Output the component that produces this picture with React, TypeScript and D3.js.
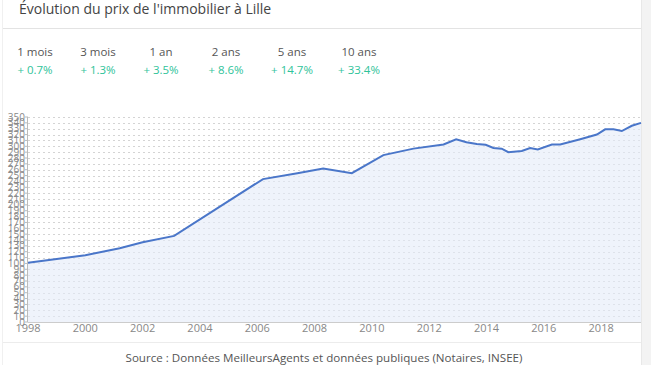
import React from "react";
import * as d3 from "d3";

const W = 651;
const H = 365;

const title = "Évolution du prix de l'immobilier à Lille";
const periods = ["1 mois", "3 mois", "1 an", "2 ans", "5 ans", "10 ans"];
const changes = ["+ 0.7%", "+ 1.3%", "+ 3.5%", "+ 8.6%", "+ 14.7%", "+ 33.4%"];
const source = "Source : Données MeilleursAgents et données publiques (Notaires, INSEE)";

const years = [
  1998, 2000, 2001.2, 2002, 2003.1, 2006.2, 2007.4, 2008.3, 2009.3, 2010.4,
  2011.45, 2012.5, 2012.94, 2013.3, 2013.66, 2013.97, 2014.24, 2014.53, 2014.76,
  2015.23, 2015.52, 2015.79, 2016.28, 2016.57, 2017.27, 2017.85, 2018.14, 2018.43,
  2018.72, 2019.07, 2019.39,
];
const values = [
  101, 114, 126, 136, 147, 244, 254, 262, 254, 285,
  296, 303, 312, 307, 304, 302.6, 297, 296, 290,
  292, 297, 294.7, 303, 303, 312, 320, 329, 329,
  326, 335, 340,
];
const xTickYears = [1998, 2000, 2002, 2004, 2006, 2008, 2010, 2012, 2014, 2016, 2018];
const yTicks = d3.range(0, 351, 10);

const font = "'Open Sans', sans-serif";

export default function App() {
  const left = 28;
  const right = 641;
  const top = 117;
  const bottom = 322;
  const x = d3.scaleLinear().domain([1998, 2019.39]).range([left, right]);
  const y = d3.scaleLinear().domain([0, 350]).range([bottom, top]);
  const pts = years.map((yr, i) => [yr, values[i]] as [number, number]);
  const line = d3.line<[number, number]>().x((d) => x(d[0])).y((d) => y(d[1]))(pts) || "";
  const area =
    d3
      .area<[number, number]>()
      .x((d) => x(d[0]))
      .y0(bottom)
      .y1((d) => y(d[1]))(pts) || "";
  const cols = [35, 98, 161, 226, 292, 359];

  return (
    <svg
      width={W}
      height={H}
      style={{ position: "absolute", left: 0, top: 0, display: "block" }}
    >
      <rect x={0} y={0} width={W} height={H} fill="#fff" />
      <rect x={642} y={0} width={9} height={H} fill="#f3f3f3" />
      <line x1={641.5} x2={641.5} y1={0} y2={H} stroke="#e8e8e8" />
      <line x1={2.5} x2={2.5} y1={0} y2={H} stroke="#f0f0f0" />
      <text x={19} y={13.5} fontFamily={font} fontSize={14} fill="#444">
        {title}
      </text>
      <line x1={3} x2={641} y1={28.5} y2={28.5} stroke="#e3e3e3" />
      {periods.map((p, i) => (
        <g key={p}>
          <text x={cols[i]} y={56} textAnchor="middle" fontFamily={font} fontSize={11.5} fill="#555">
            {p}
          </text>
          <text x={cols[i]} y={74} textAnchor="middle" fontFamily={font} fontSize={11.5} fill="#2fc39a">
            {changes[i]}
          </text>
        </g>
      ))}
      {yTicks.map((t) => (
        <line
          key={"g" + t}
          x1={left}
          x2={right}
          y1={Math.round(y(t)) + 0.5}
          y2={Math.round(y(t)) + 0.5}
          stroke="#d4d4d4"
          strokeDasharray="2,3"
        />
      ))}
      <path d={area} fill="#e4ebf8" fillOpacity={0.6} />
      <path d={line} fill="none" stroke="#4a76c9" strokeWidth={2} />
      <line x1={left - 0.5} x2={left - 0.5} y1={top} y2={bottom} stroke="#bbb" />
      <line x1={left} x2={right} y1={bottom + 0.5} y2={bottom + 0.5} stroke="#ccc" />
      {yTicks.map((t) => (
        <g key={"y" + t}>
          <line x1={left - 3} x2={left} y1={y(t)} y2={y(t)} stroke="#bbb" />
          <text x={left - 3} y={y(t) + 3.5} textAnchor="end" fontFamily={font} fontSize={10} fill="#888">
            {t}
          </text>
        </g>
      ))}
      {xTickYears.map((t) => (
        <text key={"x" + t} x={x(t)} y={332} textAnchor="middle" fontFamily={font} fontSize={11} fill="#888">
          {t}
        </text>
      ))}
      <line x1={3} x2={641} y1={342.5} y2={342.5} stroke="#ececec" />
      <text x={324} y={362} textAnchor="middle" fontFamily={font} fontSize={11.6} fill="#555">
        {source}
      </text>
    </svg>
  );
}
